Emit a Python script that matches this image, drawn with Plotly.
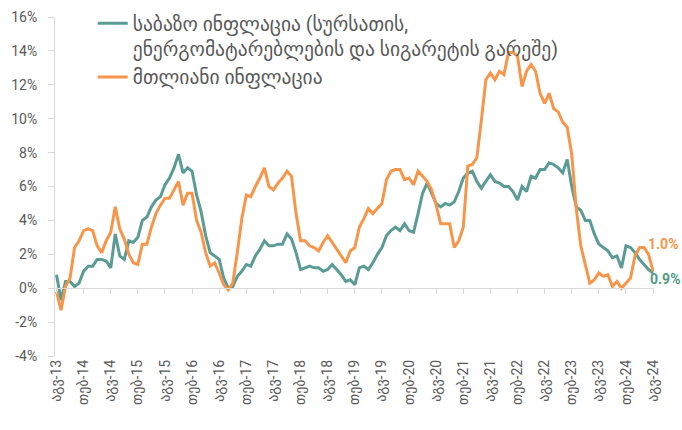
import plotly.graph_objects as go

# Georgian month abbreviations (Jan..Dec)
month_abbr = ["იან", "თებ", "მარ", "აპრ", "მაი", "ივნ", "ივლ", "აგვ", "სექ", "ოქტ", "ნოე", "დეკ"]

# monthly categories Aug-2013 .. Aug-2024
months = []
for yr in range(2013, 2025):
    for m in range(12):
        if (yr == 2013 and m < 7) or (yr == 2024 and m > 7):
            continue
        months.append(f"{month_abbr[m]}-{str(yr)[2:]}")

core_inflation = [
    0.8, -0.7, 0.4, 0.4, 0.1, 0.3, 1.0, 1.3, 1.3, 1.7, 1.7, 1.6,
    1.2, 3.2, 1.9, 1.7, 2.8, 2.7, 3.0, 4.0, 4.2, 4.8, 5.2, 5.4,
    6.1, 6.5, 7.1, 7.9, 6.8, 7.1, 6.9, 5.5, 4.5, 3.1, 2.1, 1.9,
    1.7, 0.6, 0.0, 0.1, 0.7, 1.0, 1.4, 1.3, 1.9, 2.3, 2.8, 2.5,
    2.5, 2.6, 2.6, 3.2, 2.9, 2.1, 1.1, 1.2, 1.3, 1.2, 1.2, 1.0,
    1.1, 1.4, 1.1, 0.8, 0.4, 0.5, 0.2, 1.2, 1.3, 1.1, 1.5, 2.0,
    2.4, 3.1, 3.4, 3.6, 3.4, 3.8, 3.4, 3.3, 4.4, 5.6, 6.2, 5.6,
    5.0, 4.8, 5.0, 4.9, 5.1, 5.7, 6.5, 6.8, 6.9, 6.3, 5.9, 6.3,
    6.7, 6.3, 6.2, 6.0, 6.0, 5.7, 5.2, 6.0, 5.7, 6.6, 6.5, 7.0,
    7.0, 7.4, 7.3, 7.1, 6.8, 7.6, 6.0, 4.8, 4.6, 4.0, 4.0, 3.2,
    2.6, 2.4, 2.2, 1.8, 1.9, 1.2, 2.5, 2.4, 2.1, 1.7, 1.4, 1.1,
    0.9,
]

headline_inflation = [
    -0.2, -1.3, 0.1, 0.6, 2.4, 2.8, 3.4, 3.5, 3.4, 2.5, 2.1, 2.8,
    3.3, 4.8, 3.5, 2.9, 2.0, 1.5, 1.4, 2.6, 2.6, 3.6, 4.4, 4.9,
    5.3, 5.3, 5.8, 6.3, 4.9, 5.6, 5.6, 4.0, 3.3, 2.1, 1.3, 1.5,
    0.9, 0.2, -0.1, 0.3, 2.1, 4.1, 5.5, 5.4, 6.0, 6.5, 7.1, 6.0,
    5.8, 6.2, 6.5, 6.9, 6.6, 4.4, 2.8, 2.8, 2.5, 2.4, 2.2, 2.7,
    3.1, 2.7, 2.3, 1.9, 1.5, 2.2, 2.4, 3.6, 4.1, 4.7, 4.4, 4.7,
    5.0, 6.4, 6.9, 7.0, 7.0, 6.4, 6.5, 6.1, 6.9, 6.6, 6.3, 5.8,
    4.9, 3.8, 3.8, 3.8, 2.4, 2.8, 3.6, 7.2, 7.3, 7.7, 9.9, 12.3,
    12.7, 12.3, 12.8, 12.6, 13.9, 13.9, 13.7, 11.9, 12.8, 13.2, 12.8, 11.5,
    10.9, 11.5, 10.6, 10.4, 9.8, 9.5, 7.9, 4.7, 2.5, 1.3, 0.3, 0.5,
    0.9, 0.7, 0.8, 0.1, 0.4, 0.0, 0.3, 0.6, 1.9, 2.4, 2.4, 2.0,
    1.0,
]

series_names = [
    "საბაზო ინფლაცია (სურსათის,<br>ენერგომატარებლების და სიგარეტის გარეშე)",
    "მთლიანი ინფლაცია",
]

y_tick_values = [-4, -2, 0, 2, 4, 6, 8, 10, 12, 14, 16]
y_tick_labels = ["-4%", "-2%", "0%", "2%", "4%", "6%", "8%", "10%", "12%", "14%", "16%"]

x_tick_labels = months[::6]

TEAL = "#5B9B95"
ORANGE = "#F7964A"
LABEL_GREEN = "#4E9C82"
GREY_TXT = "#595959"
AXIS_GREY = "#D9D9D9"
FONT = "Roboto, DejaVu Sans, sans-serif"

W, H = 682, 430
M_L, M_R, M_T, M_B = 55, 28, 4, 74
PLOT_TOP_PX = 17
dom_top = 1 - (PLOT_TOP_PX - M_T) / (H - M_T - M_B)
zero_pos = dom_top * (0 - (-4)) / (16 - (-4))

fig = go.Figure()
fig.add_trace(go.Scatter(x=months, y=core_inflation, name=series_names[0], mode="lines",
                         line=dict(color=TEAL, width=3)))
fig.add_trace(go.Scatter(x=months, y=headline_inflation, name=series_names[1], mode="lines",
                         line=dict(color=ORANGE, width=3)))
# invisible trace carrying the zero-line axis with tick marks
fig.add_trace(go.Scatter(x=months, y=core_inflation, xaxis="x2", mode="lines",
                         line=dict(width=0, color="rgba(0,0,0,0)"), showlegend=False,
                         hoverinfo="skip"))

fig.add_annotation(x=months[-1], y=headline_inflation[-1], text=f"<b>{headline_inflation[-1]:.1f}%</b>",
                   showarrow=False, xanchor="left", yanchor="middle", xshift=-7, yshift=27,
                   font=dict(color=ORANGE, size=14, family=FONT))
fig.add_annotation(x=months[-1], y=core_inflation[-1], text=f"<b>{core_inflation[-1]:.1f}%</b>",
                   showarrow=False, xanchor="left", yanchor="middle", xshift=-5, yshift=-6,
                   font=dict(color=LABEL_GREEN, size=14, family=FONT))

xr = [-0.33, len(months) - 1 + 0.2]
fig.update_layout(
    width=W, height=H,
    margin=dict(l=M_L, r=M_R, t=M_T, b=M_B, autoexpand=False),
    paper_bgcolor="white", plot_bgcolor="white",
    font=dict(family=FONT, color=GREY_TXT, size=14),
    showlegend=True,
    legend=dict(x=0.063, y=1.0, xanchor="left", yanchor="top", valign="top",
                bgcolor="rgba(0,0,0,0)", font=dict(size=19.5, color=GREY_TXT),
                tracegroupgap=0, itemwidth=30),
    xaxis=dict(type="category", range=xr, tickmode="array", tickvals=x_tick_labels,
               ticktext=x_tick_labels, tickangle=-90, showline=False, showgrid=False,
               zeroline=False, ticks="", automargin=False, tickfont=dict(size=14, color=GREY_TXT)),
    xaxis2=dict(type="category", matches="x", overlaying="x", anchor="free", position=zero_pos,
                range=xr, tickmode="array", tickvals=x_tick_labels, showticklabels=False,
                ticks="outside", ticklen=5, tickcolor=AXIS_GREY, showline=True,
                linecolor=AXIS_GREY, linewidth=1, showgrid=False, zeroline=False, automargin=False),
    yaxis=dict(domain=[0, dom_top], range=[-4, 16], tickmode="array", tickvals=y_tick_values,
               ticktext=y_tick_labels, showline=True, linecolor=AXIS_GREY, ticks="outside",
               ticklen=6, tickcolor=AXIS_GREY, ticklabelstandoff=8, showgrid=False, zeroline=False,
               automargin=False, tickfont=dict(size=14, color=GREY_TXT)),
)

fig.write_html("out.html", config={"displayModeBar": False},
               post_script="document.body.style.margin='0';")
